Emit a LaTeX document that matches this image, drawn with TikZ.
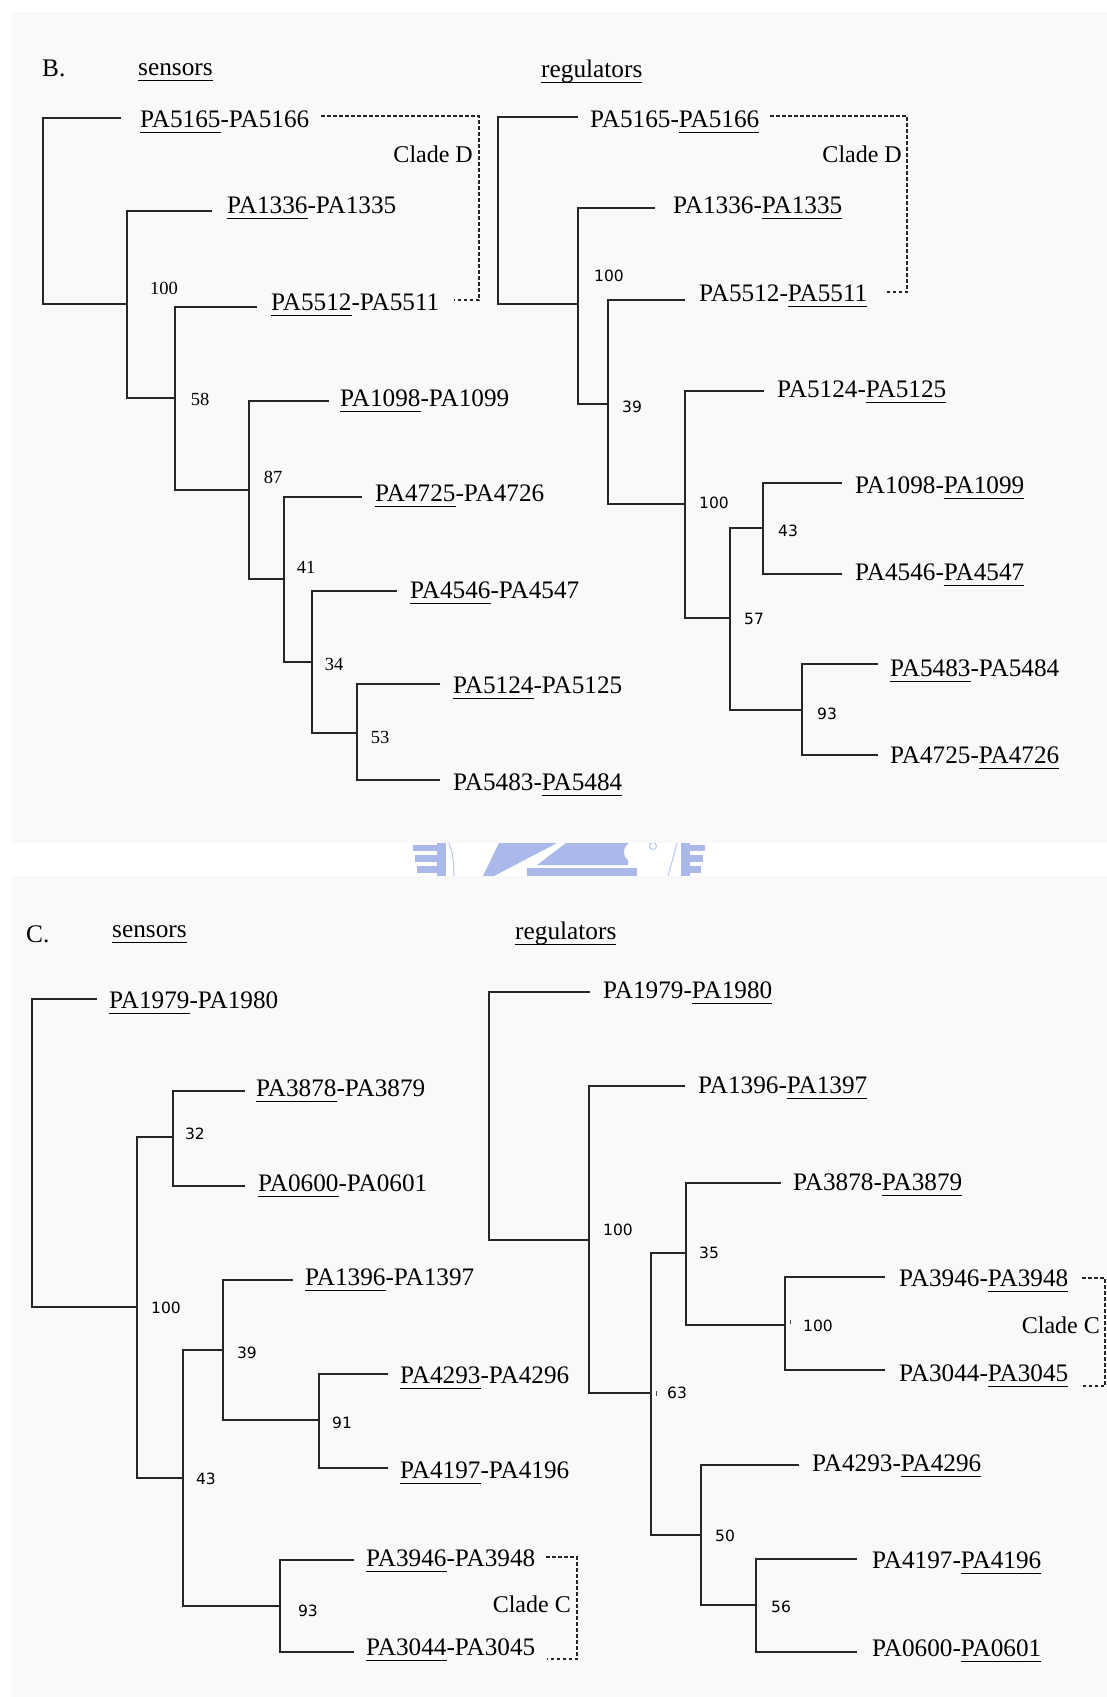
\documentclass[tikz,border=0pt]{standalone}
\usepackage{fontspec}
\setmainfont{Liberation Serif}
\newfontfamily\numsans{DejaVu Sans}
\newcommand\ulpa[1]{\sbox0{#1}\rlap{\rule[-5.8pt]{\wd0}{1.3pt}}\usebox0}
\definecolor{panelbg}{HTML}{F9F9F9}
\definecolor{wm}{RGB}{170,185,234}
\tikzset{
  tree/.style={line width=1.4pt, black!85},
  lab/.style={font=\fontsize{25.2}{29}\selectfont, inner sep=0pt, anchor=base west},
  ttl/.style={font=\fontsize{25.3}{29}\selectfont, inner sep=0pt, anchor=base west},
  cladetxt/.style={font=\fontsize{24}{28}\selectfont, inner sep=0pt, anchor=base east},
  numsf/.style={font=\numsans\fontsize{15.5}{17}\selectfont, inner sep=0pt},
  numrm/.style={font=\fontsize{18.5}{20}\selectfont, inner sep=0pt},
  clade/.style={line width=1.3pt, black!85, dash pattern=on 3.5pt off 2.5pt}
}
\begin{document}
\begin{tikzpicture}[x=1pt,y=-1pt]
\useasboundingbox (0,0) rectangle (1107,1697);
\fill[white] (0,0) rectangle (1107,1697);
\fill[panelbg] (11,12) rectangle (1107,843);
\fill[panelbg] (11,876) rectangle (1107,1697);

% watermark fragment
\begin{scope}
\clip (380,843) rectangle (740,876);
\fill[wm] (437,843) rectangle (446,876);
\fill[wm] (413,845) rectangle (446,851);
\fill[wm] (415,855) rectangle (446,862);
\fill[wm] (417,866) rectangle (446,873);
\draw[wm!70, line width=1.2pt] (449,843) .. controls (453,855) .. (454,876);
\fill[wm] (483,876) -- (499,843) -- (557,843) -- (494,876) -- cycle;
\fill[wm] (566,843) -- (628,843) -- (628,865) -- (537,865) -- cycle;
\fill[white] (634,852) circle (10);
\fill[wm] (527,868) rectangle (637,876);
\draw[wm!80, line width=1pt] (653,846) circle (3.5);
\draw[wm!70, line width=1.2pt] (677,843) .. controls (673,858) .. (668,876);
\fill[wm] (681,843) rectangle (690,876);
\fill[wm] (681,845) rectangle (705,851);
\fill[wm] (681,855) rectangle (703,862);
\fill[wm] (681,866) rectangle (701,873);
\end{scope}

% ---------- titles ----------
\node[ttl] (tB) at (42,76) {B.};
\node[ttl] (tBs) at (138,75) {\ulpa{sensors}};
\node[ttl] (tBr) at (541,77) {\ulpa{regulators}};
\node[ttl] (tC) at (26,942) {C.};
\node[ttl] (tCs) at (112,937) {\ulpa{sensors}};
\node[ttl] (tCr) at (515,939) {\ulpa{regulators}};

% ================= B sensors =================
\coordinate (bsRoot) at (43,200);
\coordinate (bs100) at (127,304);
\coordinate (bs58) at (175,398);
\coordinate (bs87) at (249,490);
\coordinate (bs41) at (284,579);
\coordinate (bs34) at (312,662);
\coordinate (bs53) at (357,733);
\coordinate (bs1) at (121,118);
\coordinate (bs2) at (212,211);
\coordinate (bs3) at (257,307);
\coordinate (bs4) at (329,401);
\coordinate (bs5) at (362,497);
\coordinate (bs6) at (397,591);
\coordinate (bs7) at (440,684);
\coordinate (bs8) at (440,780);
\draw[tree] (bs1) -| (bsRoot |- bs100) -- (bs100);
\draw[tree] (bs2) -| (bs100 |- bs58) -- (bs58);
\draw[tree] (bs3) -| (bs58 |- bs87) -- (bs87);
\draw[tree] (bs4) -| (bs87 |- bs41) -- (bs41);
\draw[tree] (bs5) -| (bs41 |- bs34) -- (bs34);
\draw[tree] (bs6) -| (bs34 |- bs53) -- (bs53);
\draw[tree] (bs7) -| (bs53 |- bs8) -- (bs8);
\node[lab] (bs1t) at (140,127) {\ulpa{PA5165}-PA5166};
\node[lab] (bs2t) at (227,213) {\ulpa{PA1336}-PA1335};
\node[lab] (bs3t) at (271,310) {\ulpa{PA5512}-PA5511};
\node[lab] (bs4t) at (340,406) {\ulpa{PA1098}-PA1099};
\node[lab] (bs5t) at (375,501) {\ulpa{PA4725}-PA4726};
\node[lab] (bs6t) at (410,598) {\ulpa{PA4546}-PA4547};
\node[lab] (bs7t) at (453,693) {\ulpa{PA5124}-PA5125};
\node[lab] (bs8t) at (453,790) {PA5483-\ulpa{PA5484}};
\node[numrm] (bsn100) at (164,288) {100};
\node[numrm] (bsn58) at (200,399) {58};
\node[numrm] (bsn87) at (273,477) {87};
\node[numrm] (bsn41) at (306,567) {41};
\node[numrm] (bsn34) at (334,664) {34};
\node[numrm] (bsn53) at (380,737) {53};
\coordinate (dbs1) at (321,116);
\coordinate (dbs2) at (479,116);
\coordinate (dbs3) at (479,300);
\coordinate (dbs4) at (454,300);
\draw[clade] (dbs1) -- (dbs2) -- (dbs3) -- (dbs4);
\node[cladetxt] (bsD) at (473,162) {Clade D};

% ================= B regulators =================
\coordinate (brRoot) at (498,200);
\coordinate (br100) at (578,304);
\coordinate (br39) at (608,404);
\coordinate (br100b) at (685,504);
\coordinate (br57) at (730,618);
\coordinate (br43) at (763,528);
\coordinate (br93) at (802,710);
\coordinate (br1) at (578,117);
\coordinate (br2) at (655,208);
\coordinate (br3) at (685,300);
\coordinate (br4) at (764,391);
\coordinate (br5) at (842,483);
\coordinate (br6) at (842,574);
\coordinate (br7) at (878,664);
\coordinate (br8) at (878,755);
\draw[tree] (br1) -| (brRoot |- br100) -- (br100);
\draw[tree] (br2) -| (br100 |- br39) -- (br39);
\draw[tree] (br3) -| (br39 |- br100b) -- (br100b);
\draw[tree] (br4) -| (br100b |- br57) -- (br57);
\draw[tree] (br43) -| (br57 |- br93) -- (br93);
\draw[tree] (br5) -| (br43 |- br6) -- (br6);
\draw[tree] (br7) -| (br93 |- br8) -- (br8);
\node[lab] (br1t) at (590,127) {PA5165-\ulpa{PA5166}};
\node[lab] (br2t) at (673,213) {PA1336-\ulpa{PA1335}};
\node[lab] (br3t) at (699,301) {PA5512-\ulpa{PA5511}};
\node[lab] (br4t) at (777,397) {PA5124-\ulpa{PA5125}};
\node[lab] (br5t) at (855,493) {PA1098-\ulpa{PA1099}};
\node[lab] (br6t) at (855,580) {PA4546-\ulpa{PA4547}};
\node[lab] (br7t) at (890,676) {\ulpa{PA5483}-PA5484};
\node[lab] (br8t) at (890,763) {PA4725-\ulpa{PA4726}};
\node[numsf] (brn100) at (609,276) {100};
\node[numsf] (brn39) at (632,407) {39};
\node[numsf] (brn100b) at (714,503) {100};
\node[numsf] (brn43) at (788,531) {43};
\node[numsf] (brn57) at (754,619) {57};
\node[numsf] (brn93) at (827,714) {93};
\coordinate (dbr1) at (770,116);
\coordinate (dbr2) at (907,116);
\coordinate (dbr3) at (907,292);
\coordinate (dbr4) at (884,292);
\draw[clade] (dbr1) -- (dbr2) -- (dbr3) -- (dbr4);
\node[cladetxt] (brD) at (902,162) {Clade D};

% ================= C sensors =================
\coordinate (csRoot) at (32,1150);
\coordinate (cs100) at (137,1307);
\coordinate (cs32) at (173,1137);
\coordinate (cs43) at (183,1478);
\coordinate (cs39) at (223,1350);
\coordinate (cs91) at (319,1420);
\coordinate (cs93) at (280,1606);
\coordinate (cs1) at (97,999);
\coordinate (cs2) at (245,1091);
\coordinate (cs3) at (245,1186);
\coordinate (cs4) at (293,1280);
\coordinate (cs5) at (388,1374);
\coordinate (cs6) at (388,1468);
\coordinate (cs7) at (354,1560);
\coordinate (cs8) at (354,1652);
\draw[tree] (cs1) -| (csRoot |- cs100) -- (cs100);
\draw[tree] (cs32) -| (cs100 |- cs43) -- (cs43);
\draw[tree] (cs2) -| (cs32 |- cs3) -- (cs3);
\draw[tree, line width=2pt] (cs32 |- cs3) -- (cs3);
\draw[tree] (cs39) -| (cs43 |- cs93) -- (cs93);
\draw[tree] (cs4) -| (cs39 |- cs91) -- (cs91);
\draw[tree] (cs5) -| (cs91 |- cs6) -- (cs6);
\draw[tree] (cs7) -| (cs93 |- cs8) -- (cs8);
\node[lab] (cs1t) at (109,1008) {\ulpa{PA1979}-PA1980};
\node[lab] (cs2t) at (256,1096) {\ulpa{PA3878}-PA3879};
\node[lab] (cs3t) at (258,1191) {\ulpa{PA0600}-PA0601};
\node[lab] (cs4t) at (305,1285) {\ulpa{PA1396}-PA1397};
\node[lab] (cs5t) at (400,1383) {\ulpa{PA4293}-PA4296};
\node[lab] (cs6t) at (400,1478) {\ulpa{PA4197}-PA4196};
\node[lab] (cs7t) at (366,1566) {\ulpa{PA3946}-PA3948};
\node[lab] (cs8t) at (366,1655) {\ulpa{PA3044}-PA3045};
\node[numsf] (csn32) at (195,1134) {32};
\node[numsf] (csn100) at (166,1308) {100};
\node[numsf] (csn39) at (247,1353) {39};
\node[numsf] (csn91) at (342,1423) {91};
\node[numsf] (csn43) at (206,1479) {43};
\node[numsf] (csn93) at (308,1611) {93};
\coordinate (dcs1) at (546,1557);
\coordinate (dcs2) at (577,1557);
\coordinate (dcs3) at (577,1659);
\coordinate (dcs4) at (547,1659);
\draw[clade] (dcs1) -- (dcs2) -- (dcs3) -- (dcs4);
\node[cladetxt] (csC) at (571,1612) {Clade C};

% ================= C regulators =================
\coordinate (crRoot) at (489,1100);
\coordinate (cr100) at (589,1240);
\coordinate (cr63) at (651,1393);
\coordinate (cr35) at (686,1253);
\coordinate (cr100c) at (785,1325);
\coordinate (cr50) at (701,1535);
\coordinate (cr56) at (756,1605);
\coordinate (cr1) at (590,992);
\coordinate (cr2) at (685,1086);
\coordinate (cr3) at (781,1183);
\coordinate (cr4) at (885,1277);
\coordinate (cr5) at (885,1370);
\coordinate (cr6) at (799,1465);
\coordinate (cr7) at (857,1559);
\coordinate (cr8) at (857,1652);
\draw[tree] (cr1) -| (crRoot |- cr100) -- (cr100);
\draw[tree] (cr2) -| (cr100 |- cr63) -- (cr63);
\draw[tree] (cr35) -| (cr63 |- cr50) -- (cr50);
\draw[tree] (cr3) -| (cr35 |- cr100c) -- (cr100c);
\draw[tree] (cr4) -| (cr100c |- cr5) -- (cr5);
\draw[tree] (cr6) -| (cr50 |- cr56) -- (cr56);
\draw[tree] (cr7) -| (cr56 |- cr8) -- (cr8);
\node[lab] (cr1t) at (603,998) {PA1979-\ulpa{PA1980}};
\node[lab] (cr2t) at (698,1093) {PA1396-\ulpa{PA1397}};
\node[lab] (cr3t) at (793,1190) {PA3878-\ulpa{PA3879}};
\node[lab] (cr4t) at (899,1286) {PA3946-\ulpa{PA3948}};
\node[lab] (cr5t) at (899,1381) {PA3044-\ulpa{PA3045}};
\node[lab] (cr6t) at (812,1471) {PA4293-\ulpa{PA4296}};
\node[lab] (cr7t) at (872,1568) {PA4197-\ulpa{PA4196}};
\node[lab] (cr8t) at (872,1656) {PA0600-\ulpa{PA0601}};
\node[numsf] (crn100) at (618,1230) {100};
\node[numsf] (crn35) at (709,1253) {35};
\node[numsf] (crn100c) at (818,1326) {100};
\node[numsf] (crn63) at (677,1393) {63};
\node[numsf] (crn50) at (725,1536) {50};
\node[numsf] (crn56) at (781,1607) {56};
\coordinate (tk1a) at (790,1320);
\coordinate (tk1b) at (790,1324);
\coordinate (tk2a) at (656,1391);
\coordinate (tk2b) at (656,1396);
\draw[black!70, line width=0.9pt] (tk1a) -- (tk1b);
\draw[black!70, line width=0.9pt] (tk2a) -- (tk2b);
\coordinate (dcr1) at (1082,1278);
\coordinate (dcr2) at (1105,1278);
\coordinate (dcr3) at (1105,1386);
\coordinate (dcr4) at (1080,1386);
\draw[clade] (dcr1) -- (dcr2) -- (dcr3) -- (dcr4);
\node[cladetxt] (crC) at (1100,1333) {Clade C};
\end{tikzpicture}
\end{document}
